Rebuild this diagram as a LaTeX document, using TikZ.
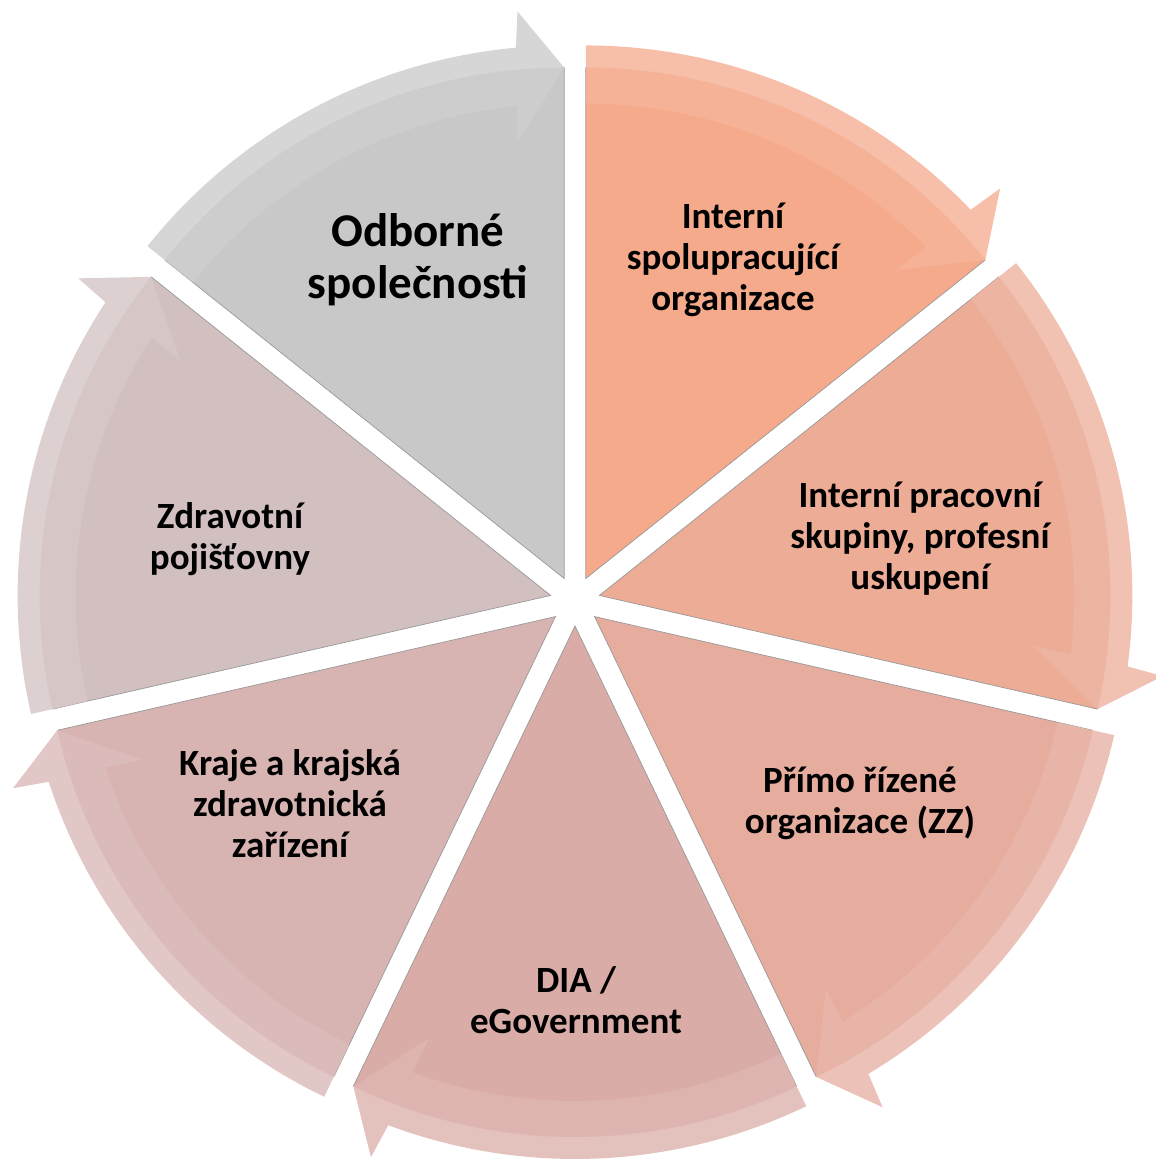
\documentclass[tikz,border=0pt]{standalone}
\usepackage{fontspec}
\setmainfont{Carlito}
\definecolor{segA}{RGB}{245,170,140}
\definecolor{segB}{RGB}{236,172,150}
\definecolor{segC}{RGB}{230,172,158}
\definecolor{segD}{RGB}{218,172,168}
\definecolor{segE}{RGB}{215,180,178}
\definecolor{segF}{RGB}{210,192,192}
\definecolor{segG}{RGB}{200,200,200}
\tikzset{
  wedge/.style={draw=none},
  edge/.style={draw=black!40,line width=0.7pt},
  band/.style={fill opacity=0.85},
  lbl/.style={font=\bfseries\fontsize{37}{41}\selectfont,align=center},
  biglbl/.style={font=\bfseries\fontsize{47}{52}\selectfont,align=center}
}

\begin{document}
\begin{tikzpicture}[x=1pt,y=1pt]
  \useasboundingbox (-575,-558) rectangle (581,601);
  % seven exploded wedges, each with its arrow band
  \foreach \i/\col in {0/segA,1/segB,2/segC,3/segD,4/segE,5/segF,6/segG} {
    \pgfmathsetmacro\a{90-51.4286*\i}
    \pgfmathsetmacro\b{\a-51.4286}
    \pgfmathsetmacro\m{\a-25.7143}
    \begin{scope}[shift={({\m}:25)}]
      \fill[wedge,\col] (0,0) -- ({\a}:511) arc[start angle=\a,end angle=\b,radius=511] -- cycle;
      \draw[edge] ({\a}:511) -- (0,0) -- ({\b}:511);
      \fill[band,\col!88!white] ({\a}:533) arc[start angle=\a,end angle=\b+5.2,radius=533]
        -- ({\b+4.7}:569) -- ({\b}:511) -- ({\b+6.2}:438)
        -- ({\b+5.7}:475) arc[start angle=\b+5.7,end angle=\a,radius=475] -- cycle;
    \end{scope}
  }
  \node[lbl] (intern) at (158,341) {Interní\\spolupracující\\organizace};
  \node[lbl] (prac) at (345,62) {Interní pracovní\\skupiny, profesní\\uskupení};
  \node[lbl] (primo) at (285,-202) {Přímo řízené\\organizace (ZZ)};
  \node[lbl] (dia) at (1,-399) {DIA /\\eGovernment};
  \node[lbl] (kraje) at (-285,-203) {Kraje a krajská\\zdravotnická\\zařízení};
  \node[lbl] (zp) at (-345,62) {Zdravotní\\pojišťovny};
  \node[biglbl] (odb) at (-157,341) {Odborné\\společnosti};
\end{tikzpicture}
\end{document}
